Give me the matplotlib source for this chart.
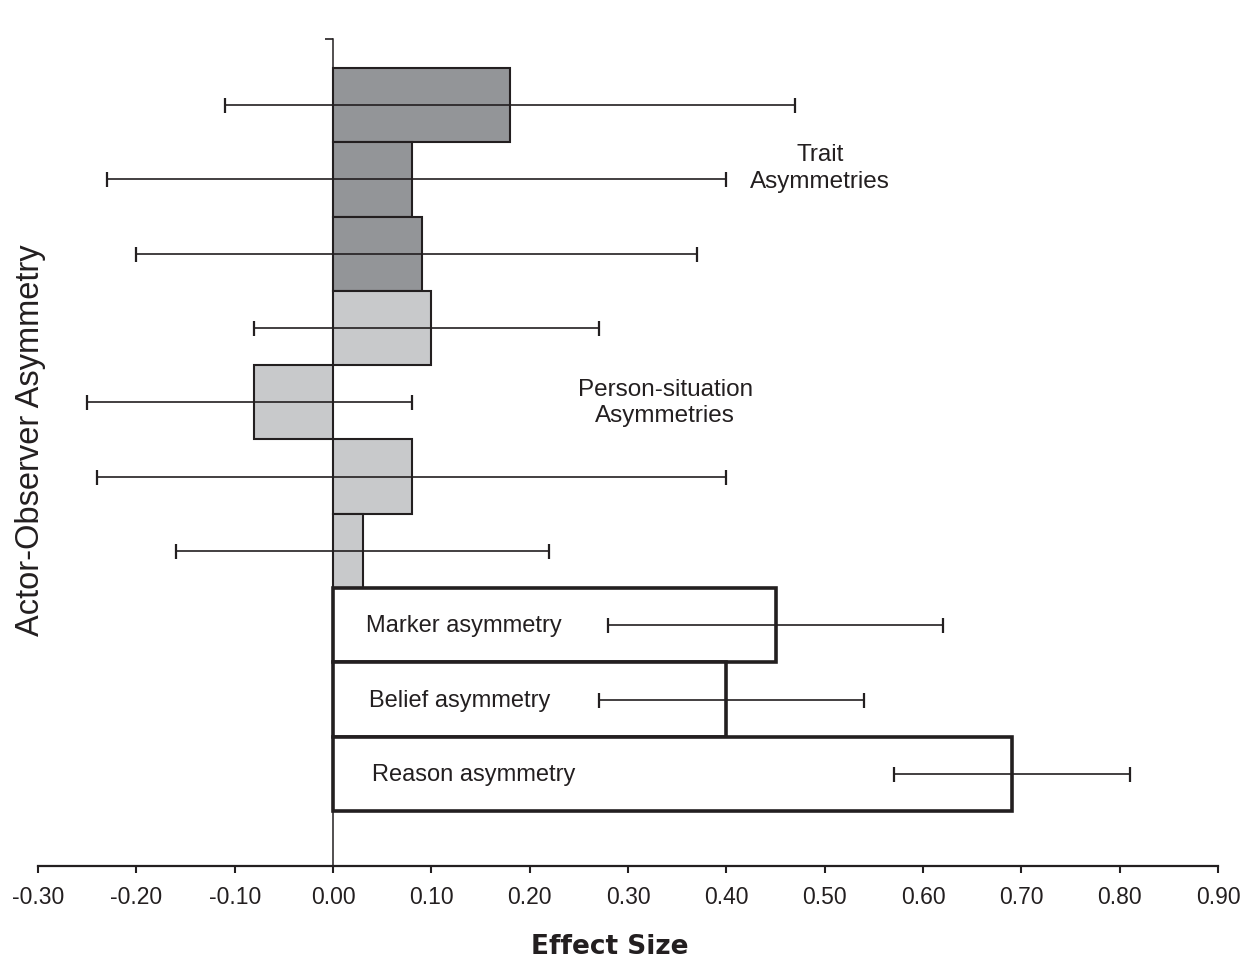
import numpy as np
import matplotlib
matplotlib.use("Agg")
import matplotlib.pyplot as plt

# Effect sizes (top to bottom) with confidence interval bounds
effects = [0.18, 0.08, 0.09, 0.10, -0.08, 0.08, 0.03, 0.45, 0.40, 0.69]
ci_low = [-0.11, -0.23, -0.20, -0.08, -0.25, -0.24, -0.16, 0.28, 0.27, 0.57]
ci_high = [0.47, 0.40, 0.37, 0.27, 0.08, 0.40, 0.22, 0.62, 0.54, 0.81]
groups = ["trait"] * 3 + ["person"] * 4 + ["new"] * 3
bar_labels = ["", "", "", "", "", "", "", "Marker asymmetry", "Belief asymmetry", "Reason asymmetry"]
x_ticks = [-0.30, -0.20, -0.10, 0.00, 0.10, 0.20, 0.30, 0.40, 0.50, 0.60, 0.70, 0.80, 0.90]

ink = "#231f20"
face = {"trait": "#939598", "person": "#c8c9cb", "new": "white"}
edge_w = {"trait": 1.5, "person": 1.5, "new": 2.6}

plt.rcParams['font.family'] = ['Liberation Sans', 'DejaVu Sans']

fig = plt.figure(figsize=(12.5, 9.62), dpi=100)
ax = fig.add_axes([38 / 1250, (962 - 867) / 962, 1180 / 1250, 827 / 962])

y = np.arange(len(effects))
for i in range(len(effects)):
    ax.barh(y[i], effects[i], height=1.0, color=face[groups[i]],
            edgecolor=ink, linewidth=edge_w[groups[i]], zorder=2)

effects_a = np.array(effects)
xerr = [effects_a - np.array(ci_low), np.array(ci_high) - effects_a]
ax.errorbar(effects, y, xerr=xerr, fmt="none", ecolor=ink, elinewidth=1.2,
            capsize=5.4, capthick=1.6, zorder=4)

for i, lab in enumerate(bar_labels):
    if lab:
        ax.text(0.034 + 0.003 * (i - 7), y[i], lab, fontsize=17, color=ink,
                va="center", ha="left", zorder=5)

ax.text(0.495, 0.84, "Trait\nAsymmetries", fontsize=17.5, color=ink,
        ha="center", va="center", linespacing=1.25)
ax.text(0.338, 4.0, "Person-situation\nAsymmetries", fontsize=17.5, color=ink,
        ha="center", va="center", linespacing=1.25)

ax.set_xlim(-0.30, 0.90)
ax.set_ylim(10.24, -0.89)

ax.spines['top'].set_visible(False)
ax.spines['right'].set_visible(False)
ax.spines['left'].set_position(('data', 0))
ax.spines['left'].set_color(ink)
ax.spines['left'].set_linewidth(1.1)
ax.spines['left'].set_zorder(3)
ax.spines['bottom'].set_color(ink)
ax.spines['bottom'].set_linewidth(1.6)

ax.set_xticks(x_ticks)
ax.set_xticklabels([f"{v:.2f}" for v in x_ticks], fontsize=16.5, color=ink)
ax.tick_params(axis='x', direction='out', length=5, width=1.5, color=ink, pad=9)
ax.set_yticks([-0.89])
ax.set_yticklabels([""])
ax.tick_params(axis='y', direction='out', length=6, width=1.2, color=ink)

fig.text(31 / 1250, 1 - 440 / 962, "Actor-Observer Asymmetry", rotation=90,
         fontsize=23.5, color=ink, ha="center", va="center")
fig.text(610 / 1250, 1 - 947 / 962, "Effect Size", fontsize=19, fontweight="bold",
         family="DejaVu Sans", color=ink, ha="center", va="center")

fig.savefig("out.png", dpi=100)
